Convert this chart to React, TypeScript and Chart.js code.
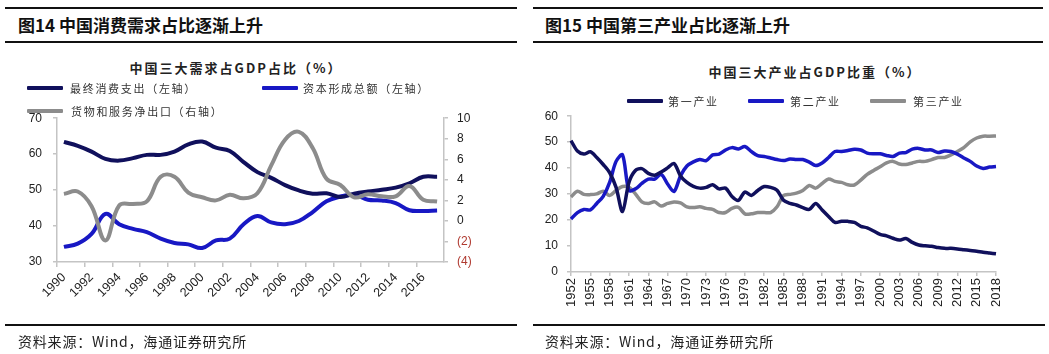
import React, { useEffect, useRef } from "react";
import { Chart, registerables } from "chart.js";

Chart.register(...registerables);

// ---------- Left chart data: 中国三大需求占GDP占比（%） ----------
const demandYears = [
  "1990", "1991", "1992", "1993", "1994", "1995", "1996", "1997", "1998", "1999",
  "2000", "2001", "2002", "2003", "2004", "2005", "2006", "2007", "2008", "2009",
  "2010", "2011", "2012", "2013", "2014", "2015", "2016", "2017",
];
const finalConsumption = [
  63.4, 62.3, 60.7, 58.7, 58.2, 58.9, 59.8, 59.8, 60.7, 62.7,
  63.5, 61.8, 60.9, 57.8, 55.0, 53.4, 51.4, 49.9, 49.0, 49.1,
  48.1, 49.0, 49.6, 50.1, 50.7, 51.9, 53.7, 53.7,
];
const capitalFormation = [
  34.2, 35.1, 37.8, 43.4, 40.5, 39.2, 38.3, 36.5, 35.3, 34.9,
  33.9, 36.0, 36.5, 40.5, 42.8, 41.0, 40.5, 41.4, 43.9, 46.9,
  48.2, 48.7, 47.3, 47.1, 46.4, 44.4, 44.2, 44.3,
];
const netExports = [
  2.63, 2.86, 1.43, -1.9, 1.5, 1.65, 1.9, 4.3, 4.3, 2.76,
  2.3, 2.0, 2.54, 2.2, 2.7, 5.4, 7.9, 8.67, 7.1, 4.1,
  3.5, 2.3, 2.6, 2.4, 2.4, 3.4, 2.06, 1.9,
];
const demandLeftTicks = [30, 40, 50, 60, 70];
const demandRightTicks = [-4, -2, 0, 2, 4, 6, 8, 10];

// ---------- Right chart data: 中国三大产业占GDP比重（%） ----------
const industryYears = [
  "1952", "1953", "1954", "1955", "1956", "1957", "1958", "1959", "1960", "1961",
  "1962", "1963", "1964", "1965", "1966", "1967", "1968", "1969", "1970", "1971",
  "1972", "1973", "1974", "1975", "1976", "1977", "1978", "1979", "1980", "1981",
  "1982", "1983", "1984", "1985", "1986", "1987", "1988", "1989", "1990", "1991",
  "1992", "1993", "1994", "1995", "1996", "1997", "1998", "1999", "2000", "2001",
  "2002", "2003", "2004", "2005", "2006", "2007", "2008", "2009", "2010", "2011",
  "2012", "2013", "2014", "2015", "2016", "2017", "2018",
];
const primaryIndustry = [
  50.6, 46.6, 45.4, 46.3, 44.1, 41.4, 38.3, 32.6, 23.3, 34.5, 39.1,
  39.8, 38.0, 37.3, 38.5, 40.1, 41.8, 37.0, 34.5, 33.0, 32.3,
  32.6, 33.6, 32.0, 32.3, 29.1, 27.6, 30.8, 29.5, 31.4, 32.9,
  32.6, 31.5, 27.6, 26.4, 25.8, 24.8, 24.1, 26.4, 23.9, 21.4,
  19.1, 19.5, 19.5, 19.1, 17.6, 17.0, 15.8, 14.5, 13.9, 13.0,
  12.3, 12.9, 11.4, 10.4, 10.1, 9.9, 9.4, 9.1, 9.1, 8.9,
  8.6, 8.3, 8.0, 7.6, 7.3, 7.0,
];
const secondaryIndustry = [
  20.4, 22.9, 24.1, 23.9, 26.4, 29.1, 34.5, 42.6, 45.1, 31.4, 32.0,
  34.1, 35.8, 35.8, 37.6, 33.9, 31.0, 37.0, 40.8, 42.4, 43.3,
  42.9, 45.1, 45.4, 47.0, 47.9, 47.4, 48.3, 46.4, 44.8, 44.5,
  43.9, 43.3, 42.9, 43.5, 43.3, 43.3, 42.3, 41.0, 42.0, 44.1,
  46.4, 46.4, 46.8, 47.3, 47.0, 45.8, 45.5, 45.5, 44.9, 44.5,
  45.8, 46.0, 47.3, 47.6, 47.0, 47.0, 46.0, 46.6, 46.4, 45.4,
  43.9, 42.6, 40.8, 39.9, 40.4, 40.6,
];
const tertiaryIndustry = [
  28.9, 31.1, 29.9, 29.8, 30.1, 31.1, 29.5, 31.4, 32.9, 32.6, 30.1,
  27.0, 26.4, 27.0, 25.4, 26.4, 27.0, 26.6, 25.1, 24.8, 25.1,
  24.5, 24.1, 22.9, 22.9, 24.5, 24.9, 22.4, 22.4, 22.9, 22.9,
  22.9, 25.1, 29.5, 29.9, 30.4, 31.4, 33.3, 32.3, 34.1, 35.8,
  34.9, 34.5, 33.6, 33.5, 35.4, 37.6, 39.1, 40.5, 42.0, 42.6,
  41.6, 41.4, 42.0, 42.6, 42.6, 43.3, 44.1, 44.1, 45.1, 46.4,
  47.9, 50.1, 51.6, 52.3, 52.3, 52.4,
];
const industryTicks = [0, 10, 20, 30, 40, 50, 60];

// ---------- Styles ----------
const NAVY = "#10105c";
const BLUE = "#1818c4";
const GRAY = "#8c8c8c";
const AXIS = "#c4c4c4";
const NEG = "#b03a30";
const TICK = "#222222";
const CJK = "'Noto Sans CJK SC', 'Noto Sans', sans-serif";
const LATIN = "'Liberation Sans', Arial, sans-serif";

export default function App() {
  const leftRef = useRef<HTMLCanvasElement>(null);
  const rightRef = useRef<HTMLCanvasElement>(null);

  useEffect(() => {
    const tickFont = { family: LATIN, size: 12 };
    const rotFont = { family: LATIN, size: 13 };
    const line = (label: string, data: number[], color: string, width: number, tension: number, extra: any = {}) => ({
      label,
      data,
      borderColor: color,
      backgroundColor: color,
      borderWidth: width,
      tension,
      pointRadius: 0,
      pointHoverRadius: 0,
      fill: false,
      ...extra,
    });

    const left = new Chart(leftRef.current!, {
      type: "line",
      data: {
        labels: demandYears,
        datasets: [
          line("最终消费支出（左轴）", finalConsumption, NAVY, 4, 0.4, { yAxisID: "y", order: 2 }),
          line("资本形成总额（左轴）", capitalFormation, BLUE, 4, 0.4, { yAxisID: "y", order: 3 }),
          line("货物和服务净出口（右轴）", netExports, GRAY, 4, 0.4, { yAxisID: "y1", order: 1 }),
        ],
      },
      options: {
        animation: false,
        responsive: false,
        maintainAspectRatio: false,
        layout: { padding: { top: 15, left: 0, right: 0, bottom: 0 } },
        plugins: { legend: { display: false }, title: { display: false }, tooltip: { enabled: false } },
        scales: {
          x: {
            type: "category",
            offset: true,
            grid: {
              offset: true,
              drawOnChartArea: false,
              drawTicks: true,
              tickLength: 5,
              lineWidth: 1.5,
              color: (c: any) => (c.index % 2 === 0 ? AXIS : "rgba(0,0,0,0)"),
            },
            border: { display: true, color: AXIS, width: 1.5 },
            ticks: {
              autoSkip: false,
              maxRotation: 45,
              minRotation: 45,
              padding: 3,
              color: TICK,
              font: { family: LATIN, size: 12.5 },
              callback: (_v: any, i: number) => (i % 2 === 0 ? demandYears[i] : ""),
            },
            afterFit: (s: any) => { s.height = 63; },
          },
          y: {
            position: "left",
            min: demandLeftTicks[0],
            max: demandLeftTicks[demandLeftTicks.length - 1],
            grid: { drawOnChartArea: false, drawTicks: true, tickLength: 4, color: AXIS, lineWidth: 1.5 },
            border: { display: true, color: AXIS, width: 1.5 },
            ticks: { stepSize: demandLeftTicks[1] - demandLeftTicks[0], padding: 11, color: TICK, font: tickFont },
            afterFit: (s: any) => { s.width = 57; },
          },
          y1: {
            position: "right",
            min: demandRightTicks[0],
            max: demandRightTicks[demandRightTicks.length - 1],
            grid: { drawOnChartArea: false, drawTicks: true, tickLength: 4, color: AXIS, lineWidth: 1.5 },
            border: { display: true, color: AXIS, width: 1.5 },
            ticks: {
              stepSize: demandRightTicks[1] - demandRightTicks[0],
              padding: 9,
              font: tickFont,
              color: (c: any) => (c.tick && c.tick.value < 0 ? NEG : TICK),
              callback: (v: any) => (Number(v) < 0 ? `(${-Number(v)})` : `${v}`),
            },
            afterFit: (s: any) => { s.width = 76; },
          },
        },
      } as any,
    });

    const right = new Chart(rightRef.current!, {
      type: "line",
      data: {
        labels: industryYears,
        datasets: [
          line("第一产业", primaryIndustry, NAVY, 3.5, 0.3, { order: 1 }),
          line("第二产业", secondaryIndustry, BLUE, 3.5, 0.3, { order: 2 }),
          line("第三产业", tertiaryIndustry, GRAY, 3.5, 0.3, { order: 3 }),
        ],
      },
      options: {
        animation: false,
        responsive: false,
        maintainAspectRatio: false,
        layout: { padding: { top: 12, left: 0, right: 53, bottom: 0 } },
        plugins: { legend: { display: false }, title: { display: false }, tooltip: { enabled: false } },
        scales: {
          x: {
            type: "category",
            offset: false,
            grid: {
              offset: false,
              drawOnChartArea: false,
              drawTicks: true,
              tickLength: 4,
              lineWidth: 1.5,
              color: (c: any) => (c.index % 3 === 0 ? AXIS : "rgba(0,0,0,0)"),
            },
            border: { display: true, color: AXIS, width: 1.5 },
            ticks: {
              autoSkip: false,
              maxRotation: 90,
              minRotation: 90,
              padding: 2,
              color: TICK,
              font: rotFont,
              callback: (_v: any, i: number) => (i % 3 === 0 ? industryYears[i] : ""),
            },
            afterFit: (s: any) => { s.height = 53; },
          },
          y: {
            position: "left",
            min: industryTicks[0],
            max: industryTicks[industryTicks.length - 1],
            grid: { drawOnChartArea: false, drawTicks: true, tickLength: 4, color: AXIS, lineWidth: 1.5 },
            border: { display: true, color: AXIS, width: 1.5 },
            ticks: { stepSize: industryTicks[1] - industryTicks[0], padding: 9, color: TICK, font: tickFont },
            afterFit: (s: any) => { s.width = 46; },
          },
        },
      } as any,
    });

    return () => {
      left.destroy();
      right.destroy();
    };
  }, []);

  const abs = (s: React.CSSProperties): React.CSSProperties => ({ position: "absolute", whiteSpace: "nowrap", ...s });
  const rule = (x: number, y: number, w: number) => (
    <div style={abs({ left: x, top: y, width: w, height: 1.5, background: "#111" })} />
  );
  const heading = (x: number, text: string) => (
    <div style={abs({ left: x, top: 15, fontFamily: CJK, fontWeight: 700, fontSize: 17, lineHeight: "20px", color: "#111" })}>{text}</div>
  );
  const chartTitle = (cx: number, cy: number, text: string) => (
    <div style={abs({ left: cx, top: cy - 9, transform: "translateX(-50%)", fontFamily: CJK, fontWeight: 700, fontSize: 13, lineHeight: "18px", letterSpacing: 2, color: "#222" })}>{text}</div>
  );
  const legendItem = (x: number, y: number, color: string, text: string, textX: number) => (
    <>
      <div style={abs({ left: x, top: y - 2, width: 36, height: 4, background: color, borderRadius: 1 })} />
      <div style={abs({ left: textX, top: y - 8, fontFamily: CJK, fontSize: 11, lineHeight: "16px", letterSpacing: 1.7, color: "#333" })}>{text}</div>
    </>
  );
  const source = (x: number) => (
    <div style={abs({ left: x, top: 332, fontFamily: CJK, fontSize: 14, lineHeight: "18px", letterSpacing: 0.8, color: "#222" })}>资料来源：Wind，海通证券研究所</div>
  );

  return (
    <div style={{ position: "fixed", left: 0, top: 0, width: 1049, height: 354, background: "#fff", overflow: "hidden" }}>
      {/* Left panel */}
      {rule(5, 7, 512)}
      {heading(18, "图14 中国消费需求占比逐渐上升")}
      {rule(5, 41, 512)}
      <canvas ref={leftRef} width={520} height={225} style={abs({ left: 0, top: 100, width: 520, height: 225 })} />
      {chartTitle(236, 68, "中国三大需求占GDP占比（%）")}
      {legendItem(27, 88, NAVY, "最终消费支出（左轴）", 70)}
      {legendItem(262, 88, BLUE, "资本形成总额（左轴）", 303)}
      {legendItem(27, 111, GRAY, "货物和服务净出口（右轴）", 71)}
      {rule(5, 324, 512)}
      {source(18)}

      {/* Right panel */}
      {rule(533, 7, 510)}
      {heading(545, "图15 中国第三产业占比逐渐上升")}
      {rule(533, 41, 510)}
      <canvas ref={rightRef} width={524} height={225} style={abs({ left: 525, top: 100, width: 524, height: 225 })} />
      {chartTitle(815, 72, "中国三大产业占GDP比重（%）")}
      {legendItem(627, 101, NAVY, "第一产业", 668)}
      {legendItem(748, 101, BLUE, "第二产业", 790)}
      {legendItem(870, 101, GRAY, "第三产业", 913)}
      {rule(533, 324, 512)}
      {source(545)}
    </div>
  );
}
